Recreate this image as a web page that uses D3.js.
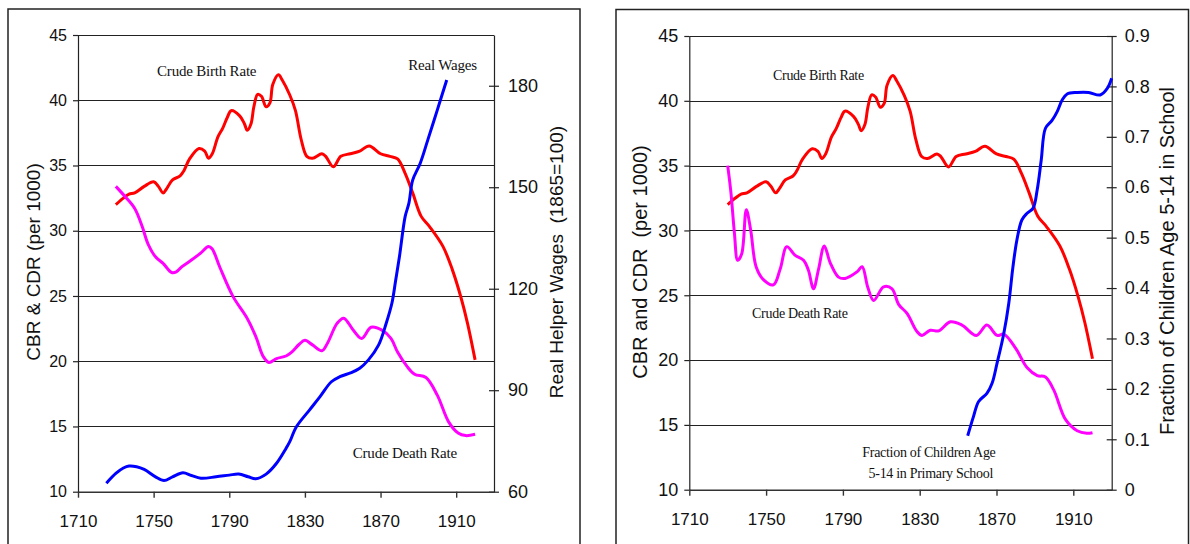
<!DOCTYPE html>
<html>
<head>
<meta charset="utf-8">
<script src="https://cdn.jsdelivr.net/npm/d3@7"></script>
<style>
  body { margin: 0; background: #fff; }
  svg { display: block; }
</style>
</head>
<body>
<div id="chart"></div>
<script>
// axis ticks
const xTicks = [1710, 1750, 1790, 1830, 1870, 1910];
const rateTicks = [10, 15, 20, 25, 30, 35, 40, 45];
const gridTicks = [15, 20, 25, 30, 35, 40, 45];
const wageTicks = [60, 90, 120, 150, 180];
const schoolTicks = [0, 0.1, 0.2, 0.3, 0.4, 0.5, 0.6, 0.7, 0.8, 0.9];

// crude birth rate (same in both panels)
const cbrYears = [1730, 1734, 1737, 1740, 1745, 1750, 1752.5, 1755, 1757, 1760, 1764, 1766, 1769, 1774, 1777, 1779, 1781,
  1784, 1786.5, 1789, 1791, 1795.5, 1798, 1799.5, 1801.5, 1803, 1805, 1807, 1809.5, 1811.5, 1813, 1816, 1818, 1822,
  1825, 1828, 1831, 1834, 1839, 1841, 1845, 1849, 1854, 1859, 1864, 1870, 1875, 1879, 1883, 1887, 1891.5, 1896, 1903,
  1908, 1912.5, 1916, 1920];
const cbrValues = [32.0, 32.5, 32.8, 32.9, 33.4, 33.75, 33.4, 32.9, 33.25, 33.9, 34.2, 34.6, 35.5, 36.3, 36.1, 35.55, 35.9,
  37.2, 37.85, 38.7, 39.2, 38.8, 38.2, 37.7, 38.2, 39.5, 40.45, 40.3, 39.5, 39.8, 41.2, 41.95, 41.55, 40.4,
  39.2, 37.0, 35.7, 35.55, 35.9, 35.7, 34.9, 35.7, 35.9, 36.1, 36.5, 35.9, 35.7, 35.5, 34.4, 32.9, 31.1, 30.3, 28.8,
  27.0, 24.9, 22.9, 20.1];

// crude death rate, left panel
const cdrYearsA = [1730, 1735, 1740, 1744, 1747, 1751, 1755, 1759.5, 1762, 1765, 1770, 1775, 1779, 1781, 1785, 1792, 1799,
  1804, 1808, 1811, 1815, 1820, 1823, 1827, 1830, 1834, 1839, 1842, 1847, 1850.5, 1855.5, 1860, 1865, 1870.5, 1875.5,
  1879, 1884, 1888, 1894, 1900, 1906, 1911, 1915, 1920];
const cdrValuesA = [33.4, 32.6, 31.7, 30.3, 29.0, 28.0, 27.5, 26.8, 26.85, 27.25, 27.75, 28.3, 28.8, 28.6, 27.2, 24.95, 23.4,
  21.9, 20.35, 19.9, 20.2, 20.4, 20.7, 21.3, 21.6, 21.25, 20.8, 21.4, 22.9, 23.3, 22.4, 21.75, 22.6, 22.4, 21.75,
  20.7, 19.6, 19.0, 18.75, 17.4, 15.35, 14.5, 14.3, 14.4];

// real helper wages (1865=100)
const wageYears = [1725, 1730, 1734, 1737, 1741, 1745, 1751, 1755.5, 1760, 1765.5, 1770, 1775, 1783, 1790, 1795, 1800, 1804,
  1809.5, 1815, 1820, 1822, 1825.5, 1832.5, 1838, 1844, 1848.5, 1854.5, 1859, 1863.5, 1869, 1873, 1876, 1878, 1880,
  1883, 1885, 1887, 1891, 1895, 1900, 1905];
const wageValues = [62.5, 65.4, 67.0, 67.6, 67.4, 66.6, 64.4, 63.3, 64.4, 65.6, 64.8, 64.0, 64.4, 64.9, 65.2, 64.4, 63.8,
  65.2, 68.4, 72.8, 74.8, 79.2, 84.2, 88.1, 92.5, 94.0, 95.2, 96.5, 98.9, 103.4, 109.8, 115.7, 122.5, 129.5,
  141.3, 145.3, 152.1, 157.1, 164.0, 172.8, 181.7];

// crude death rate, right panel
const cdrYearsB = [1730, 1731.7, 1733.5, 1735.2, 1737.3, 1739.7, 1742, 1744.8, 1748.6, 1753.8, 1757.3, 1760.8, 1765, 1769.5,
  1772, 1774.7, 1777.3, 1780.3, 1783.4, 1787.7, 1791.2, 1797.3, 1800, 1803, 1806, 1811.2, 1815.6, 1819, 1823.4, 1828.6,
  1831.2, 1835.5, 1839.9, 1846, 1852, 1859.5, 1865, 1870.3, 1873.8, 1880, 1886, 1891.2, 1895.5, 1899.8, 1906, 1912,
  1917, 1920];
const cdrValuesB = [35.0, 32.9, 29.8, 27.7, 28.2, 31.6, 30.0, 27.2, 26.2, 25.8, 27.0, 28.75, 28.1, 27.7,
  26.95, 25.5, 27.0, 28.8, 27.5, 26.4, 26.3, 26.8, 27.2, 25.6, 24.6, 25.65, 25.5, 24.3, 23.6, 22.2,
  21.9, 22.3, 22.25, 22.95, 22.7, 21.9, 22.7, 21.9, 22.0, 20.9, 19.4, 18.8, 18.7, 17.7, 15.4, 14.55,
  14.35, 14.4];

// fraction of children age 5-14 in school
const schoolYears = [1855, 1858, 1860.7, 1865, 1867.7, 1870.3, 1873.8, 1876.4, 1878.5, 1880.6, 1883.2, 1885.8, 1889, 1891.2,
  1893.3, 1895.5, 1899, 1901.6, 1904.2, 1906.8, 1912, 1918, 1924, 1927.7, 1930];
const schoolValues = [0.107, 0.145, 0.175, 0.191, 0.211, 0.251, 0.310, 0.370, 0.440, 0.495, 0.535, 0.548, 0.558, 0.595,
  0.654, 0.717, 0.733, 0.750, 0.773, 0.785, 0.788, 0.788, 0.783, 0.796, 0.816];

const svg = d3.select("#chart").append("svg")
  .attr("width", 1190)
  .attr("height", 544);

function drawPanel(p) {
  const g = svg.append("g");

  // panel frame (runs off the bottom of the picture)
  g.append("rect")
    .attr("x", p.box[0]).attr("y", p.box[1])
    .attr("width", p.box[2]).attr("height", p.box[3])
    .attr("fill", "none")
    .attr("stroke", "#222")
    .attr("stroke-width", 1.5);

  const x = d3.scaleLinear([1710, 1930], [p.left, p.right]);
  const yL = d3.scaleLinear([10, 45], [p.bottom, p.top]);
  const yR = d3.scaleLinear(p.rightDomain, [p.bottom, p.top]);

  // grid lines
  g.append("g")
    .selectAll("line")
    .data(gridTicks)
    .join("line")
      .attr("x1", p.left).attr("x2", p.right)
      .attr("y1", d => Math.round(yL(d)) + 0.5).attr("y2", d => Math.round(yL(d)) + 0.5)
      .attr("stroke", "#222")
      .attr("stroke-width", 1);

  // left axis
  g.append("g")
    .attr("transform", `translate(${p.left},0)`)
    .call(d3.axisLeft(yL).tickValues(rateTicks).tickSize(5).tickSizeOuter(0).tickPadding(6))
    .call(a => a.attr("font-family", "Liberation Sans, Arial, sans-serif").attr("font-size", p.leftFont))
    .call(a => a.selectAll("text").attr("fill", "#111"))
    .call(a => a.selectAll("path, line").attr("stroke", "#222").attr("stroke-width", 1.2));

  // right axis, ticks cross the line
  g.append("g")
    .attr("transform", `translate(${p.right},0)`)
    .call(d3.axisRight(yR).tickValues(p.rightTicks).tickFormat(p.rightFormat).tickSize(5).tickSizeOuter(0))
    .call(a => a.attr("font-family", "Liberation Sans, Arial, sans-serif").attr("font-size", p.rightFont))
    .call(a => a.selectAll(".tick line").attr("x1", -5))
    .call(a => a.selectAll(".tick text").attr("x", p.rightPad).attr("fill", "#111"))
    .call(a => a.selectAll("path, line").attr("stroke", "#222").attr("stroke-width", 1.2));

  // bottom axis
  g.append("g")
    .attr("transform", `translate(0,${p.bottom})`)
    .call(d3.axisBottom(x).tickValues(xTicks).tickFormat(d3.format("d")).tickSize(6).tickSizeOuter(0))
    .call(a => a.attr("font-family", "Liberation Sans, Arial, sans-serif").attr("font-size", p.xFont))
    .call(a => a.selectAll(".tick text").attr("dy", "0").attr("y", 35).attr("fill", "#111"))
    .call(a => a.selectAll("path, line").attr("stroke", "#333").attr("stroke-width", 1.4));

  // axis titles
  p.titles.forEach(t => {
    g.append("text")
      .attr("transform", `translate(${t.x},${t.y}) rotate(-90)`)
      .attr("dy", "0.35em")
      .attr("text-anchor", "middle")
      .attr("font-family", "Liberation Sans, Arial, sans-serif")
      .attr("font-size", t.size)
      .attr("fill", "#111")
      .style("white-space", "pre")
      .text(t.text);
  });

  // series
  p.series.forEach(s => {
    const y = s.axis === "right" ? yR : yL;
    const line = d3.line()
      .x(d => x(d[0]))
      .y(d => y(d[1]))
      .curve(d3.curveCatmullRom.alpha(0.5));
    g.append("path")
      .datum(d3.zip(s.years, s.values))
      .attr("d", line)
      .attr("fill", "none")
      .attr("stroke", s.color)
      .attr("stroke-width", 3)
      .attr("stroke-linejoin", "round");
  });

  // annotations
  p.labels.forEach(l => {
    g.append("text")
      .attr("x", x(l.year))
      .attr("y", yL(l.value))
      .attr("text-anchor", l.anchor || "start")
      .attr("font-family", "Liberation Serif, Times New Roman, serif")
      .attr("font-size", p.labelFont)
      .attr("letter-spacing", p.labelSpacing)
      .attr("fill", "#111")
      .text(l.text);
  });
}

drawPanel({
  box: [8, 9, 572, 600],
  left: 78, right: 494, top: 35, bottom: 491.7,
  rightDomain: [60, 195],
  rightTicks: wageTicks,
  rightFormat: d3.format("d"),
  rightPad: 14,
  leftFont: 16, rightFont: 18, xFont: 17,
  labelFont: 15, labelSpacing: -0.2,
  titles: [
    {text: "CBR & CDR (per 1000)", x: 33, y: 262, size: 19},
    {text: "Real Helper Wages  (1865=100)", x: 556, y: 262, size: 19}
  ],
  series: [
    {years: cbrYears, values: cbrValues, color: "#ff0000"},
    {years: cdrYearsA, values: cdrValuesA, color: "#ff00ff"},
    {years: wageYears, values: wageValues, color: "#0000ff", axis: "right"}
  ],
  labels: [
    {text: "Crude Birth Rate", year: 1751.8, value: 41.85},
    {text: "Real Wages", year: 1920.9, value: 42.3, anchor: "end"},
    {text: "Crude Death Rate", year: 1855.3, value: 12.58}
  ]
});

drawPanel({
  box: [616, 9.5, 572.5, 600],
  left: 689.3, right: 1111.7, top: 36, bottom: 489.7,
  rightDomain: [0, 0.9],
  rightTicks: schoolTicks,
  rightFormat: d => d === 0 ? "0" : d3.format(".1f")(d),
  rightPad: 13,
  leftFont: 18, rightFont: 18, xFont: 17,
  labelFont: 14, labelSpacing: -0.3,
  titles: [
    {text: "CBR and CDR  (per 1000)", x: 640, y: 262, size: 20},
    {text: "Fraction of Children Age 5-14 in School", x: 1166.5, y: 261, size: 20}
  ],
  series: [
    {years: cbrYears, values: cbrValues, color: "#ff0000"},
    {years: cdrYearsB, values: cdrValuesB, color: "#ff00ff"},
    {years: schoolYears, values: schoolValues, color: "#0000ff", axis: "right"}
  ],
  labels: [
    {text: "Crude Birth Rate", year: 1753.6, value: 41.6},
    {text: "Crude Death Rate", year: 1742.7, value: 23.25},
    {text: "Fraction of Children Age", year: 1834.8, value: 12.55, anchor: "middle"},
    {text: "5-14 in Primary School", year: 1835.8, value: 10.9, anchor: "middle"}
  ]
});
</script>
</body>
</html>
